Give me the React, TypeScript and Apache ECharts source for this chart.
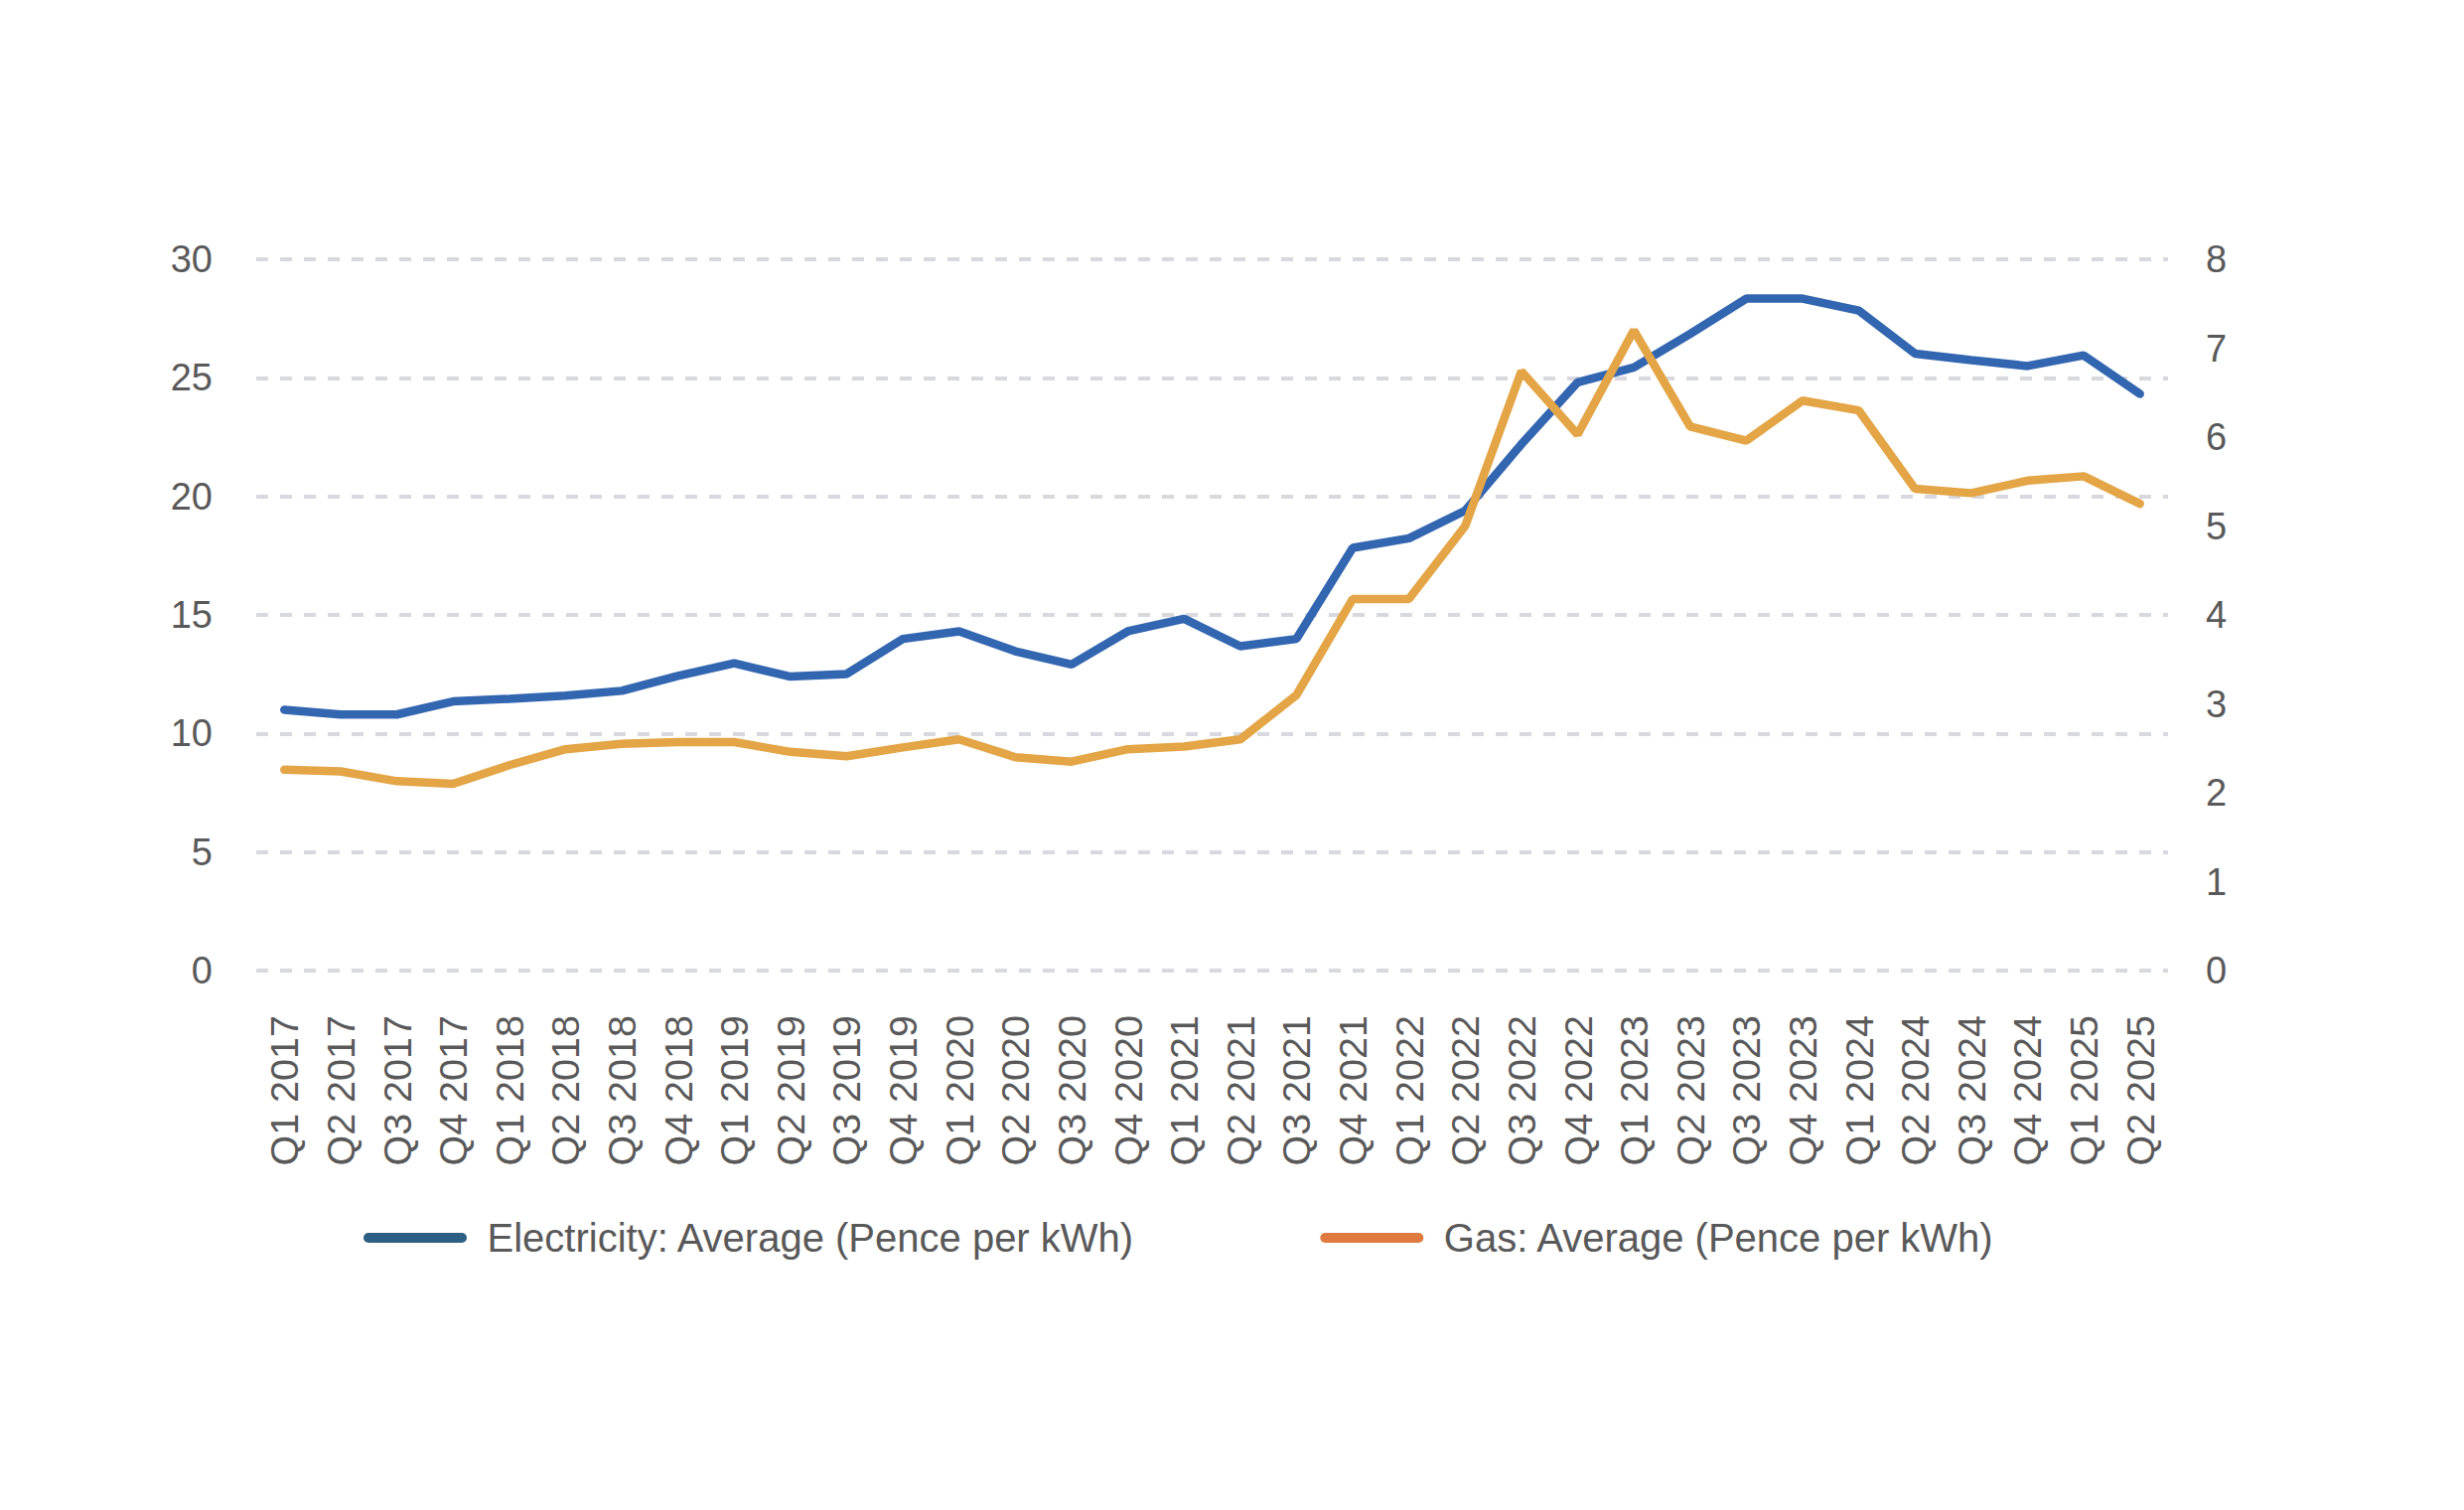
import React, { useEffect, useRef } from 'react';
import * as echarts from 'echarts';

// quarters shown on the x axis
const quarters = [
  'Q1 2017', 'Q2 2017', 'Q3 2017', 'Q4 2017',
  'Q1 2018', 'Q2 2018', 'Q3 2018', 'Q4 2018',
  'Q1 2019', 'Q2 2019', 'Q3 2019', 'Q4 2019',
  'Q1 2020', 'Q2 2020', 'Q3 2020', 'Q4 2020',
  'Q1 2021', 'Q2 2021', 'Q3 2021', 'Q4 2021',
  'Q1 2022', 'Q2 2022', 'Q3 2022', 'Q4 2022',
  'Q1 2023', 'Q2 2023', 'Q3 2023', 'Q4 2023',
  'Q1 2024', 'Q2 2024', 'Q3 2024', 'Q4 2024',
  'Q1 2025', 'Q2 2025',
];

// left axis (pence per kWh)
const electricity = [
  11.0, 10.8, 10.8, 11.35,
  11.46, 11.6, 11.8, 12.43,
  12.96, 12.4, 12.51, 13.99,
  14.31, 13.47, 12.91, 14.31,
  14.84, 13.68, 13.99, 17.83,
  18.23, 19.4, 22.2, 24.81,
  25.44, 26.85, 28.34, 28.34,
  27.84, 26.02, 25.75, 25.5,
  25.95, 24.32,
];

// right axis (pence per kWh)
const gas = [
  2.26, 2.24, 2.13, 2.1,
  2.31, 2.49, 2.55, 2.57,
  2.57, 2.46, 2.41, 2.51,
  2.6, 2.4, 2.35, 2.49,
  2.52, 2.6, 3.1, 4.18,
  4.18, 5.0, 6.74, 6.03,
  7.2, 6.12, 5.96, 6.41,
  6.3, 5.42, 5.37, 5.51,
  5.56, 5.25,
];

const elecName = 'Electricity: Average (Pence per kWh)';
const gasName = 'Gas: Average (Pence per kWh)';

const textColor = '#595959';
const font = '"Liberation Sans", Arial, sans-serif';
const pill = 'path://M5,0 L99,0 A5,5 0 0 1 99,10 L5,10 A5,5 0 0 1 5,0 Z';

const App = () => {
  const chartRef = useRef<HTMLDivElement>(null);

  useEffect(() => {
    const chart = echarts.init(chartRef.current, null, { renderer: 'svg' });

    chart.setOption({
      animation: false,
      backgroundColor: '#ffffff',
      textStyle: { fontFamily: font },
      grid: { left: 258, right: 298, top: 261, bottom: 543, containLabel: false },
      legend: {
        left: 361,
        top: 1221,
        itemWidth: 107,
        itemHeight: 10,
        itemGap: 186,
        icon: pill,
        textStyle: { color: textColor, fontSize: 40, fontFamily: font, padding: [0, 0, 0, 14] },
        data: [
          { name: elecName, itemStyle: { color: '#2D5E83', borderWidth: 0 } },
          { name: gasName, itemStyle: { color: '#DE7A3D', borderWidth: 0 } },
        ],
      },
      xAxis: {
        type: 'category',
        data: quarters,
        boundaryGap: true,
        axisLine: { show: false },
        axisTick: { show: false },
        axisLabel: {
          interval: 0,
          rotate: 90,
          margin: 45,
          color: textColor,
          fontSize: 39.5,
          fontFamily: font,
        },
      },
      yAxis: [
        {
          type: 'value',
          min: 0,
          max: 30,
          interval: 5,
          axisLine: { show: false },
          axisTick: { show: false },
          axisLabel: { margin: 44, color: textColor, fontSize: 38, fontFamily: font },
          splitLine: {
            lineStyle: { color: '#D8D8DF', width: 4, type: [12, 12] },
          },
        },
        {
          type: 'value',
          min: 0,
          max: 8,
          interval: 1,
          position: 'right',
          axisLine: { show: false },
          axisTick: { show: false },
          axisLabel: { margin: 38, color: textColor, fontSize: 38, fontFamily: font },
          splitLine: { show: false },
        },
      ],
      series: [
        {
          name: elecName,
          type: 'line',
          yAxisIndex: 0,
          data: electricity,
          showSymbol: false,
          symbol: 'none',
          color: '#3366B0',
          lineStyle: { color: '#3366B0', width: 8.5, cap: 'round' },
        },
        {
          name: gasName,
          type: 'line',
          yAxisIndex: 1,
          data: gas,
          showSymbol: false,
          symbol: 'none',
          color: '#E4A546',
          lineStyle: { color: '#E4A546', width: 8.5, cap: 'round' },
        },
      ],
    });

    return () => {
      chart.dispose();
    };
  }, []);

  return (
    <div
      ref={chartRef}
      style={{ position: 'fixed', left: 0, top: 0, width: '2481px', height: '1520px' }}
    />
  );
};

export default App;
